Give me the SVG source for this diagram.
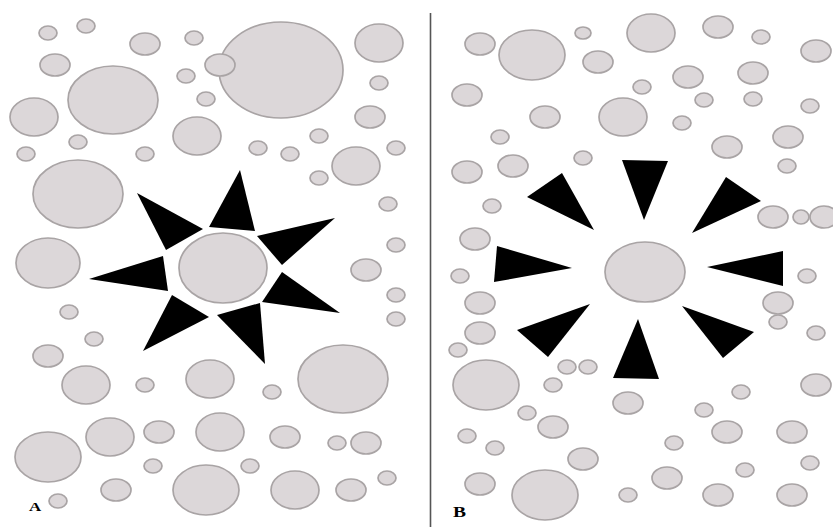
<svg xmlns="http://www.w3.org/2000/svg" width="833" height="527" viewBox="0 0 833 527">
<style>
ellipse{fill:#dcd7d9;stroke:#a9a4a5;stroke-width:1.7}
polygon{fill:#000}
text{font-family:"Liberation Serif",serif;font-weight:bold;fill:#000}
</style>
<rect width="833" height="527" fill="#fff"/>
<g id="panel-a">
<ellipse cx="48" cy="33" rx="9" ry="7"/>
<ellipse cx="86" cy="26" rx="9" ry="7"/>
<ellipse cx="145" cy="44" rx="15" ry="11"/>
<ellipse cx="194" cy="38" rx="9" ry="7"/>
<ellipse cx="281" cy="70" rx="62" ry="48"/>
<ellipse cx="220" cy="65" rx="15" ry="11"/>
<ellipse cx="379" cy="43" rx="24" ry="19"/>
<ellipse cx="55" cy="65" rx="15" ry="11"/>
<ellipse cx="113" cy="100" rx="45" ry="34"/>
<ellipse cx="186" cy="76" rx="9" ry="7"/>
<ellipse cx="206" cy="99" rx="9" ry="7"/>
<ellipse cx="379" cy="83" rx="9" ry="7"/>
<ellipse cx="34" cy="117" rx="24" ry="19"/>
<ellipse cx="197" cy="136" rx="24" ry="19"/>
<ellipse cx="370" cy="117" rx="15" ry="11"/>
<ellipse cx="78" cy="142" rx="9" ry="7"/>
<ellipse cx="26" cy="154" rx="9" ry="7"/>
<ellipse cx="145" cy="154" rx="9" ry="7"/>
<ellipse cx="258" cy="148" rx="9" ry="7"/>
<ellipse cx="290" cy="154" rx="9" ry="7"/>
<ellipse cx="319" cy="136" rx="9" ry="7"/>
<ellipse cx="396" cy="148" rx="9" ry="7"/>
<ellipse cx="356" cy="166" rx="24" ry="19"/>
<ellipse cx="319" cy="178" rx="9" ry="7"/>
<ellipse cx="78" cy="194" rx="45" ry="34"/>
<ellipse cx="388" cy="204" rx="9" ry="7"/>
<ellipse cx="396" cy="245" rx="9" ry="7"/>
<ellipse cx="48" cy="263" rx="32" ry="25"/>
<ellipse cx="366" cy="270" rx="15" ry="11"/>
<ellipse cx="396" cy="295" rx="9" ry="7"/>
<ellipse cx="396" cy="319" rx="9" ry="7"/>
<ellipse cx="69" cy="312" rx="9" ry="7"/>
<ellipse cx="94" cy="339" rx="9" ry="7"/>
<ellipse cx="48" cy="356" rx="15" ry="11"/>
<ellipse cx="86" cy="385" rx="24" ry="19"/>
<ellipse cx="145" cy="385" rx="9" ry="7"/>
<ellipse cx="210" cy="379" rx="24" ry="19"/>
<ellipse cx="272" cy="392" rx="9" ry="7"/>
<ellipse cx="343" cy="379" rx="45" ry="34"/>
<ellipse cx="48" cy="457" rx="33" ry="25"/>
<ellipse cx="110" cy="437" rx="24" ry="19"/>
<ellipse cx="159" cy="432" rx="15" ry="11"/>
<ellipse cx="220" cy="432" rx="24" ry="19"/>
<ellipse cx="285" cy="437" rx="15" ry="11"/>
<ellipse cx="337" cy="443" rx="9" ry="7"/>
<ellipse cx="366" cy="443" rx="15" ry="11"/>
<ellipse cx="153" cy="466" rx="9" ry="7"/>
<ellipse cx="250" cy="466" rx="9" ry="7"/>
<ellipse cx="116" cy="490" rx="15" ry="11"/>
<ellipse cx="206" cy="490" rx="33" ry="25"/>
<ellipse cx="295" cy="490" rx="24" ry="19"/>
<ellipse cx="351" cy="490" rx="15" ry="11"/>
<ellipse cx="387" cy="478" rx="9" ry="7"/>
<ellipse cx="58" cy="501" rx="9" ry="7"/>
<g id="star-a">
<polygon points="137,193 203,229 166,250"/>
<polygon points="240,170 209,227 255,231"/>
<polygon points="335,218 257,236 282,265"/>
<polygon points="89,279 163,256 168,291"/>
<polygon points="172,295 209,317 143,351"/>
<polygon points="217,315 260,303 265,364"/>
<polygon points="282,272 262,302 340,313"/>
</g>
<ellipse id="center-a" cx="223" cy="268" rx="44" ry="35"/>
<text x="0" y="0" font-size="13" transform="translate(29,511) scale(1.3,1)">A</text>
</g>
<line x1="430.5" y1="13" x2="430.5" y2="527" stroke="#555" stroke-width="1.6"/>
<g id="panel-b">
<ellipse cx="480" cy="44" rx="15" ry="11"/>
<ellipse cx="532" cy="55" rx="33" ry="25"/>
<ellipse cx="583" cy="33" rx="8" ry="6"/>
<ellipse cx="598" cy="62" rx="15" ry="11"/>
<ellipse cx="651" cy="33" rx="24" ry="19"/>
<ellipse cx="718" cy="27" rx="15" ry="11"/>
<ellipse cx="761" cy="37" rx="9" ry="7"/>
<ellipse cx="816" cy="51" rx="15" ry="11"/>
<ellipse cx="467" cy="95" rx="15" ry="11"/>
<ellipse cx="642" cy="87" rx="9" ry="7"/>
<ellipse cx="688" cy="77" rx="15" ry="11"/>
<ellipse cx="753" cy="73" rx="15" ry="11"/>
<ellipse cx="704" cy="100" rx="9" ry="7"/>
<ellipse cx="753" cy="99" rx="9" ry="7"/>
<ellipse cx="810" cy="106" rx="9" ry="7"/>
<ellipse cx="545" cy="117" rx="15" ry="11"/>
<ellipse cx="623" cy="117" rx="24" ry="19"/>
<ellipse cx="682" cy="123" rx="9" ry="7"/>
<ellipse cx="500" cy="137" rx="9" ry="7"/>
<ellipse cx="788" cy="137" rx="15" ry="11"/>
<ellipse cx="727" cy="147" rx="15" ry="11"/>
<ellipse cx="467" cy="172" rx="15" ry="11"/>
<ellipse cx="513" cy="166" rx="15" ry="11"/>
<ellipse cx="583" cy="158" rx="9" ry="7"/>
<ellipse cx="787" cy="166" rx="9" ry="7"/>
<ellipse cx="492" cy="206" rx="9" ry="7"/>
<ellipse cx="773" cy="217" rx="15" ry="11"/>
<ellipse cx="801" cy="217" rx="8" ry="7"/>
<ellipse cx="824" cy="217" rx="14" ry="11"/>
<ellipse cx="475" cy="239" rx="15" ry="11"/>
<ellipse cx="460" cy="276" rx="9" ry="7"/>
<ellipse cx="807" cy="276" rx="9" ry="7"/>
<ellipse cx="480" cy="303" rx="15" ry="11"/>
<ellipse cx="778" cy="303" rx="15" ry="11"/>
<ellipse cx="778" cy="322" rx="9" ry="7"/>
<ellipse cx="816" cy="333" rx="9" ry="7"/>
<ellipse cx="480" cy="333" rx="15" ry="11"/>
<ellipse cx="458" cy="350" rx="9" ry="7"/>
<ellipse cx="486" cy="385" rx="33" ry="25"/>
<ellipse cx="567" cy="367" rx="9" ry="7"/>
<ellipse cx="588" cy="367" rx="9" ry="7"/>
<ellipse cx="553" cy="385" rx="9" ry="7"/>
<ellipse cx="628" cy="403" rx="15" ry="11"/>
<ellipse cx="741" cy="392" rx="9" ry="7"/>
<ellipse cx="816" cy="385" rx="15" ry="11"/>
<ellipse cx="527" cy="413" rx="9" ry="7"/>
<ellipse cx="553" cy="427" rx="15" ry="11"/>
<ellipse cx="704" cy="410" rx="9" ry="7"/>
<ellipse cx="727" cy="432" rx="15" ry="11"/>
<ellipse cx="792" cy="432" rx="15" ry="11"/>
<ellipse cx="467" cy="436" rx="9" ry="7"/>
<ellipse cx="495" cy="448" rx="9" ry="7"/>
<ellipse cx="674" cy="443" rx="9" ry="7"/>
<ellipse cx="583" cy="459" rx="15" ry="11"/>
<ellipse cx="745" cy="470" rx="9" ry="7"/>
<ellipse cx="810" cy="463" rx="9" ry="7"/>
<ellipse cx="480" cy="484" rx="15" ry="11"/>
<ellipse cx="545" cy="495" rx="33" ry="25"/>
<ellipse cx="667" cy="478" rx="15" ry="11"/>
<ellipse cx="628" cy="495" rx="9" ry="7"/>
<ellipse cx="718" cy="495" rx="15" ry="11"/>
<ellipse cx="792" cy="495" rx="15" ry="11"/>
<g id="rays-b">
<polygon points="527,197 562,173 594,230"/>
<polygon points="622,160 668,161 644,220"/>
<polygon points="726,177 761,201 692,233"/>
<polygon points="497,246 572,268 494,282"/>
<polygon points="783,251 707,267 783,286"/>
<polygon points="517,330 590,304 548,357"/>
<polygon points="638,319 613,378 659,379"/>
<polygon points="682,306 754,332 723,358"/>
</g>
<ellipse id="center-b" cx="645" cy="272" rx="40" ry="30"/>
<text x="0" y="0" font-size="15" transform="translate(453,517) scale(1.3,1)">B</text>
</g>
</svg>
